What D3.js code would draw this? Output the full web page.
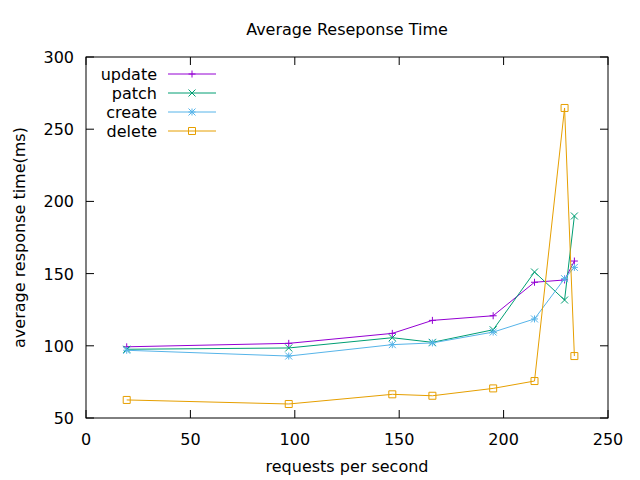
<!DOCTYPE html>
<html>
<head>
<meta charset="utf-8">
<script src="https://cdn.jsdelivr.net/npm/d3@7"></script>
<style>
body { margin: 0; background: #fff; }
text { font-family: "DejaVu Sans", sans-serif; fill: #000; }
</style>
</head>
<body>
<div id="chart"></div>
<script>
// values
var rps = [19.5, 97.1, 146.7, 165.9, 195, 214.8, 229.2, 233.9];
var updateMs = [99.3, 101.7, 108.6, 117.6, 120.8, 144, 145.6, 158.7];
var patchMs = [97.6, 98.5, 105.6, 102.4, 111.1, 151.1, 131.7, 189.9];
var createMs = [96.9, 92.9, 100.8, 102, 109.5, 118.6, 146.5, 154.3];
var deleteMs = [62.5, 59.7, 66.4, 65.4, 70.5, 75.6, 264.7, 92.9];

var seriesNames = ["update", "patch", "create", "delete"];
var seriesColors = ["#9400d3", "#009e73", "#56b4e9", "#e69f00"];
var seriesMarks = ["plus", "cross", "star", "square"];
var xTicks = [0, 50, 100, 150, 200, 250];
var yTicks = [50, 100, 150, 200, 250, 300];

var w = 640, h = 480;
var pl = 86, pr = 608, pt = 57, pb = 418;
var tl = 8;
var fs = "16px";

var svg = d3.select("#chart").append("svg")
    .attr("width", w)
    .attr("height", h);

var x = d3.scaleLinear().domain([0, 250]).range([pl, pr]);
var y = d3.scaleLinear().domain([50, 300]).range([pb, pt]);

var allY = [updateMs, patchMs, createMs, deleteMs];

// ticks, inward on all four sides
var ax = svg.append("g").attr("stroke", "#000").attr("stroke-width", 1);
xTicks.forEach(function(t) {
    ax.append("line").attr("x1", x(t)).attr("x2", x(t)).attr("y1", pb).attr("y2", pb - tl);
    ax.append("line").attr("x1", x(t)).attr("x2", x(t)).attr("y1", pt).attr("y2", pt + tl);
});
yTicks.forEach(function(t) {
    ax.append("line").attr("x1", pl).attr("x2", pl + tl).attr("y1", y(t)).attr("y2", y(t));
    ax.append("line").attr("x1", pr).attr("x2", pr - tl).attr("y1", y(t)).attr("y2", y(t));
});

svg.selectAll(".xl").data(xTicks).enter().append("text")
    .attr("x", function(d) { return x(d); })
    .attr("y", pb + 27)
    .attr("text-anchor", "middle")
    .style("font-size", fs)
    .text(function(d) { return d; });

svg.selectAll(".yl").data(yTicks).enter().append("text")
    .attr("x", pl - 12)
    .attr("y", function(d) { return y(d) + 6; })
    .attr("text-anchor", "end")
    .style("font-size", fs)
    .text(function(d) { return d; });

function marker(g, kind, cx, cy, color) {
    var s = 3.5;
    var p = [];
    if (kind == "plus" || kind == "star") {
        p.push("M" + (cx - s) + "," + cy + "H" + (cx + s));
        p.push("M" + cx + "," + (cy - s) + "V" + (cy + s));
    }
    if (kind == "cross" || kind == "star") {
        p.push("M" + (cx - s) + "," + (cy - s) + "L" + (cx + s) + "," + (cy + s));
        p.push("M" + (cx - s) + "," + (cy + s) + "L" + (cx + s) + "," + (cy - s));
    }
    if (kind == "square") {
        p.push("M" + (cx - s) + "," + (cy - s) + "h" + 2 * s + "v" + 2 * s + "h" + (-2 * s) + "Z");
    }
    g.append("path").attr("d", p.join("")).attr("fill", "none")
        .attr("stroke", color).attr("stroke-width", 1);
}

var line = d3.line()
    .x(function(d) { return x(d[0]); })
    .y(function(d) { return y(d[1]); });

allY.forEach(function(vals, i) {
    var pts = rps.map(function(r, j) { return [r, vals[j]]; });
    var g = svg.append("g");
    g.append("path").attr("d", line(pts)).attr("fill", "none")
        .attr("stroke", seriesColors[i]).attr("stroke-width", 1);
    pts.forEach(function(p) {
        marker(g, seriesMarks[i], x(p[0]), y(p[1]), seriesColors[i]);
    });
});

// legend
seriesNames.forEach(function(name, i) {
    var ly = 74 + i * 19;
    svg.append("text").attr("x", 157).attr("y", ly + 6)
        .attr("text-anchor", "end").style("font-size", fs).text(name);
    svg.append("line").attr("x1", 168).attr("x2", 216).attr("y1", ly).attr("y2", ly)
        .attr("stroke", seriesColors[i]).attr("stroke-width", 1);
    marker(svg, seriesMarks[i], 192, ly, seriesColors[i]);
});

// frame
svg.append("rect").attr("x", pl).attr("y", pt)
    .attr("width", pr - pl).attr("height", pb - pt)
    .attr("fill", "none").attr("stroke", "#000").attr("stroke-width", 1);

svg.append("text").attr("x", 347).attr("y", 35)
    .attr("text-anchor", "middle").style("font-size", fs).text("Average Reseponse Time");

svg.append("text").attr("x", 347).attr("y", 472)
    .attr("text-anchor", "middle").style("font-size", fs).text("requests per second");

svg.append("text")
    .attr("transform", "translate(25," + (pt + pb) / 2 + ") rotate(-90)")
    .attr("text-anchor", "middle").style("font-size", fs).text("average response time(ms)");
</script>
</body>
</html>
